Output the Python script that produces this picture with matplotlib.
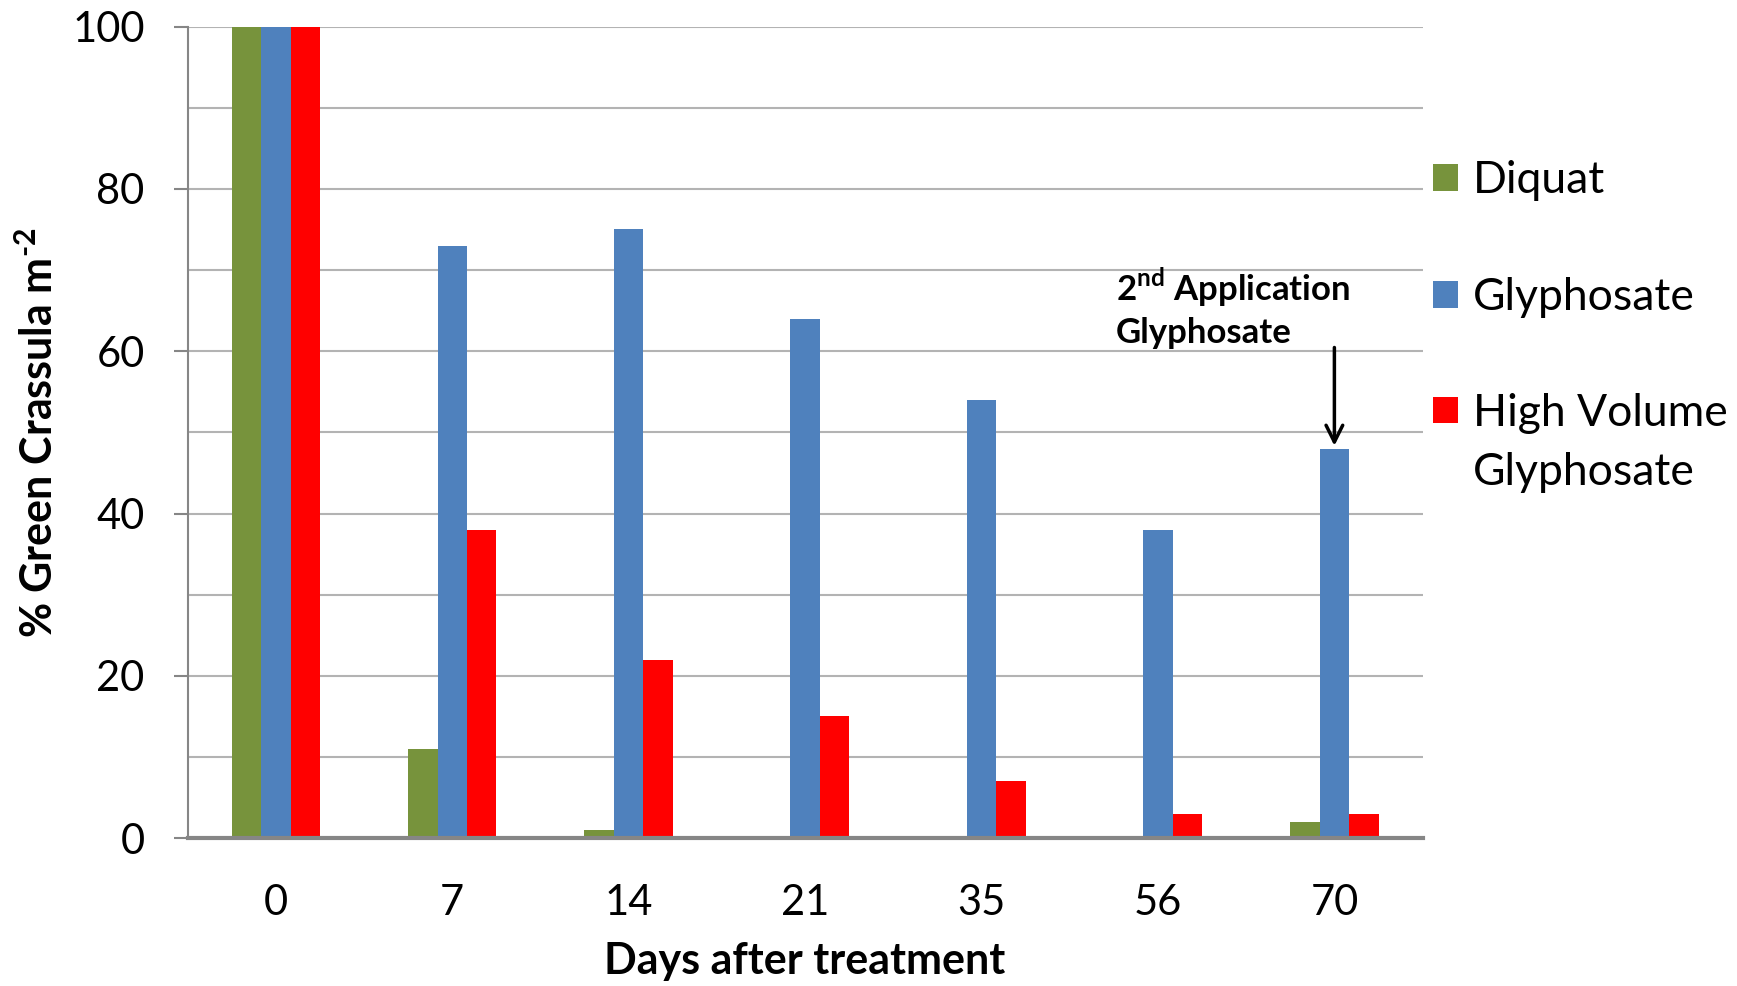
import matplotlib
matplotlib.use("Agg")
import matplotlib.pyplot as plt
import numpy as np
from matplotlib.patches import Patch, Rectangle
from matplotlib.legend_handler import HandlerPatch

plt.rcParams['font.family'] = ['Lato', 'DejaVu Sans']
plt.rcParams['mathtext.fontset'] = 'custom'
plt.rcParams['mathtext.rm'] = 'Lato:bold'
plt.rcParams['mathtext.bf'] = 'Lato:bold'

categories = ["0", "7", "14", "21", "35", "56", "70"]
series_names = ["Diquat", "Glyphosate", "High Volume\nGlyphosate"]
diquat = [100, 11, 1, 0, 0, 0, 2]
glyphosate = [100, 73, 75, 64, 54, 38, 48]
hv_glyphosate = [100, 38, 22, 15, 7, 3, 3]
colors = ["#77933C", "#4F81BD", "#FF0000"]

fig = plt.figure(figsize=(17.37, 9.86), dpi=100)
ax = fig.add_axes([0.108, 0.150, 0.711, 0.823])

x = np.arange(len(categories))
w = 0.167
for i, (vals, c) in enumerate(zip([diquat, glyphosate, hv_glyphosate], colors)):
    ax.bar(x + (i - 1) * w, vals, width=w, color=c, zorder=3, label=series_names[i])

ax.set_xlim(-0.5, len(categories) - 0.5)
ax.set_ylim(0, 100)
ax.set_yticks(np.arange(0, 101, 20))
ax.set_yticks(np.arange(10, 100, 20), minor=True)
ax.grid(axis='y', which='both', color='#b3b3b3', linewidth=1.5, zorder=0)
ax.tick_params(axis='y', which='major', length=10, width=1.5, color='#868686', labelsize=30, pad=21)
ax.tick_params(axis='y', which='minor', length=0)
ax.set_xticks(x)
ax.set_xticklabels(categories)
ax.tick_params(axis='x', length=0, labelsize=30, pad=33)

for s in ['top', 'right']:
    ax.spines[s].set_visible(False)
ax.spines['left'].set_color('#868686')
ax.spines['left'].set_linewidth(1.5)
ax.spines['bottom'].set_color('#868686')
ax.spines['bottom'].set_linewidth(3)
ax.spines['bottom'].set_zorder(4)

ax.set_xlabel("Days after treatment", fontsize=31, fontweight='bold', labelpad=14)
ax.set_ylabel(r"% Green Crassula m$^{\text{-}2}$", fontsize=31, fontweight='bold')
ax.yaxis.set_label_coords(-0.103, 0.5)

ax.annotate("", xy=(6, 48), xytext=(6, 60.8),
            arrowprops=dict(arrowstyle='->', color='black', lw=2.5, mutation_scale=30), zorder=5)
ax.text(4.76, 60.3, r"2$^{\mathbf{nd}}$ Application" + "\nGlyphosate", fontsize=25,
        fontweight='bold', ha='left', va='bottom', linespacing=1.3, zorder=5)


class TopAlignedPatch(HandlerPatch):
    def __init__(self, offset, **kw):
        super().__init__(**kw)
        self.offset = offset

    def create_artists(self, legend, orig_handle, xdescent, ydescent, width, height,
                       fontsize, trans):
        p = Rectangle((-xdescent, -ydescent + self.offset), width, height,
                      facecolor=orig_handle.get_facecolor(), edgecolor='none')
        p.set_transform(trans)
        return [p]


legend_fs = 32
linesp = 1.52
handles = [Patch(facecolor=c) for c in colors]
leg = fig.legend(handles, series_names, loc='upper left', bbox_to_anchor=(0.802, 0.878),
                 frameon=False, fontsize=legend_fs, handlelength=0.55, handleheight=0.55,
                 handletextpad=0.35, labelspacing=1.7,
                 handler_map={handles[2]: TopAlignedPatch(offset=legend_fs * linesp * 0.5)})
for t in leg.get_texts():
    t.set_linespacing(linesp)

fig.savefig("out.png", dpi=100)
